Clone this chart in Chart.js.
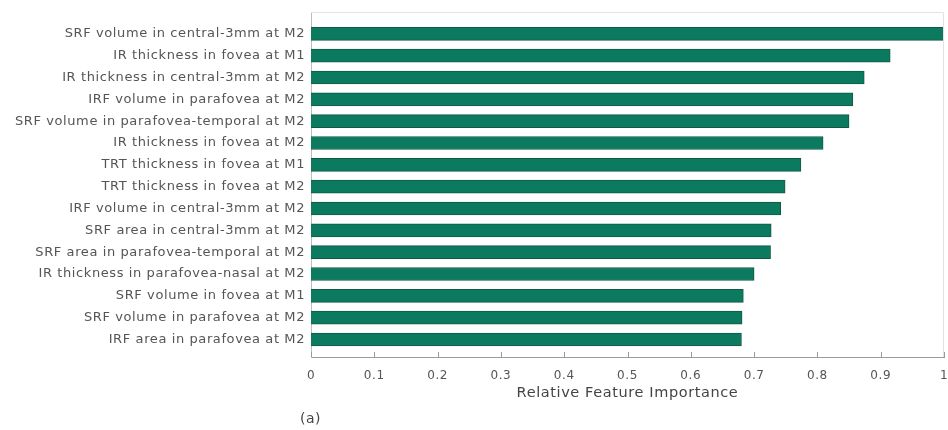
<!DOCTYPE html>
<html>
<head>
<meta charset="utf-8">
<script src="https://cdn.jsdelivr.net/npm/chart.js@4/dist/chart.umd.min.js"></script>
<style>
  html, body { margin: 0; padding: 0; background: #fff; }
  #wrap { position: relative; width: 948px; height: 430px; }
  #caption { position: absolute; left: 300px; top: 410px; font: 14px "DejaVu Sans", sans-serif; color: #444; letter-spacing: 0.5px; }
</style>
</head>
<body>
<div id="wrap">
  <canvas id="importanceChart" width="948" height="430"></canvas>
  <div id="caption">(a)</div>
</div>
<script>
const features = [
    'SRF volume in central-3mm at M2',
    'IR thickness in fovea at M1',
    'IR thickness in central-3mm at M2',
    'IRF volume in parafovea at M2',
    'SRF volume in parafovea-temporal at M2',
    'IR thickness in fovea at M2',
    'TRT thickness in fovea at M1',
    'TRT thickness in fovea at M2',
    'IRF volume in central-3mm at M2',
    'SRF area in central-3mm at M2',
    'SRF area in parafovea-temporal at M2',
    'IR thickness in parafovea-nasal at M2',
    'SRF volume in fovea at M1',
    'SRF volume in parafovea at M2',
    'IRF area in parafovea at M2'
];
const importance = [1.0, 0.915, 0.874, 0.856, 0.850, 0.809, 0.774, 0.749, 0.742, 0.727, 0.726, 0.700, 0.683, 0.681, 0.680];
const xTicks = [0, 0.1, 0.2, 0.3, 0.4, 0.5, 0.6, 0.7, 0.8, 0.9, 1];

// the reference text is a bit stretched, so widen it a little
const spacingPlugin = {
    id: 'spacing',
    beforeLayout(chart) { chart.ctx.letterSpacing = '0.6px'; },
    beforeDraw(chart) { chart.ctx.letterSpacing = '0.6px'; }
};

// matlab style box + inward tick marks
const boxPlugin = {
    id: 'box',
    afterDraw(chart) {
        const { ctx, chartArea: a, scales } = chart;
        ctx.save();
        ctx.strokeStyle = '#e2e2e2';
        ctx.lineWidth = 1;
        ctx.beginPath();
        ctx.moveTo(a.left, a.top + 0.5);
        ctx.lineTo(a.right - 0.5, a.top + 0.5);
        ctx.lineTo(a.right - 0.5, a.bottom);
        ctx.stroke();
        ctx.strokeStyle = '#9a9a9a';
        ctx.beginPath();
        xTicks.forEach(t => {
            const px = Math.round(scales.x.getPixelForValue(t)) + 0.5;
            ctx.moveTo(px, a.bottom);
            ctx.lineTo(px, a.bottom - 5);
        });
        ctx.stroke();
        ctx.restore();
    }
};

const ctx = document.getElementById('importanceChart').getContext('2d');
new Chart(ctx, {
    type: 'bar',
    data: {
        datasets: [{
            label: 'Relative Feature Importance',
            data: importance.map((v, i) => ({ x: v, y: i + 1 })),
            backgroundColor: '#0c7a5e',
            borderColor: '#0f5a47',
            borderWidth: 1,
            barThickness: 13,
        }]
    },
    options: {
        indexAxis: 'y',
        responsive: false,
        animation: false,
        layout: { padding: { top: 12, right: 4, left: 0, bottom: 0 } },
        plugins: {
            legend: { display: false },
            tooltip: { enabled: false }
        },
        scales: {
            x: {
                type: 'linear',
                min: 0,
                max: 1,
                afterBuildTicks: s => { s.ticks = xTicks.map(v => ({ value: v })); },
                afterFit: s => { s.height = 73; s.paddingRight = 0; s.paddingLeft = 0; },
                grid: { display: false, drawTicks: false },
                border: { color: '#9a9a9a' },
                ticks: {
                    color: '#555',
                    padding: 12,
                    maxRotation: 0,
                    font: { family: 'DejaVu Sans', size: 12 },
                    callback: v => String(Math.round(v * 10) / 10)
                },
                title: {
                    display: true,
                    text: 'Relative Feature Importance',
                    color: '#444',
                    font: { family: 'DejaVu Sans', size: 14.5 },
                    padding: { top: 0, bottom: 28 }
                }
            },
            y: {
                type: 'linear',
                reverse: true,
                offset: false,
                min: 0,
                max: 15.8,
                afterBuildTicks: s => { s.ticks = features.map((_, i) => ({ value: i + 1 })); },
                afterFit: s => { s.width = 311; s.paddingTop = 0; s.paddingBottom = 0; },
                grid: { display: false, drawTicks: false },
                border: { color: '#bdbdbd' },
                ticks: {
                    color: '#555',
                    padding: 6,
                    autoSkip: false,
                    font: { family: 'DejaVu Sans', size: 13 },
                    callback: v => features[v - 1] || ''
                }
            }
        }
    },
    plugins: [spacingPlugin, boxPlugin]
});
</script>
</body>
</html>
